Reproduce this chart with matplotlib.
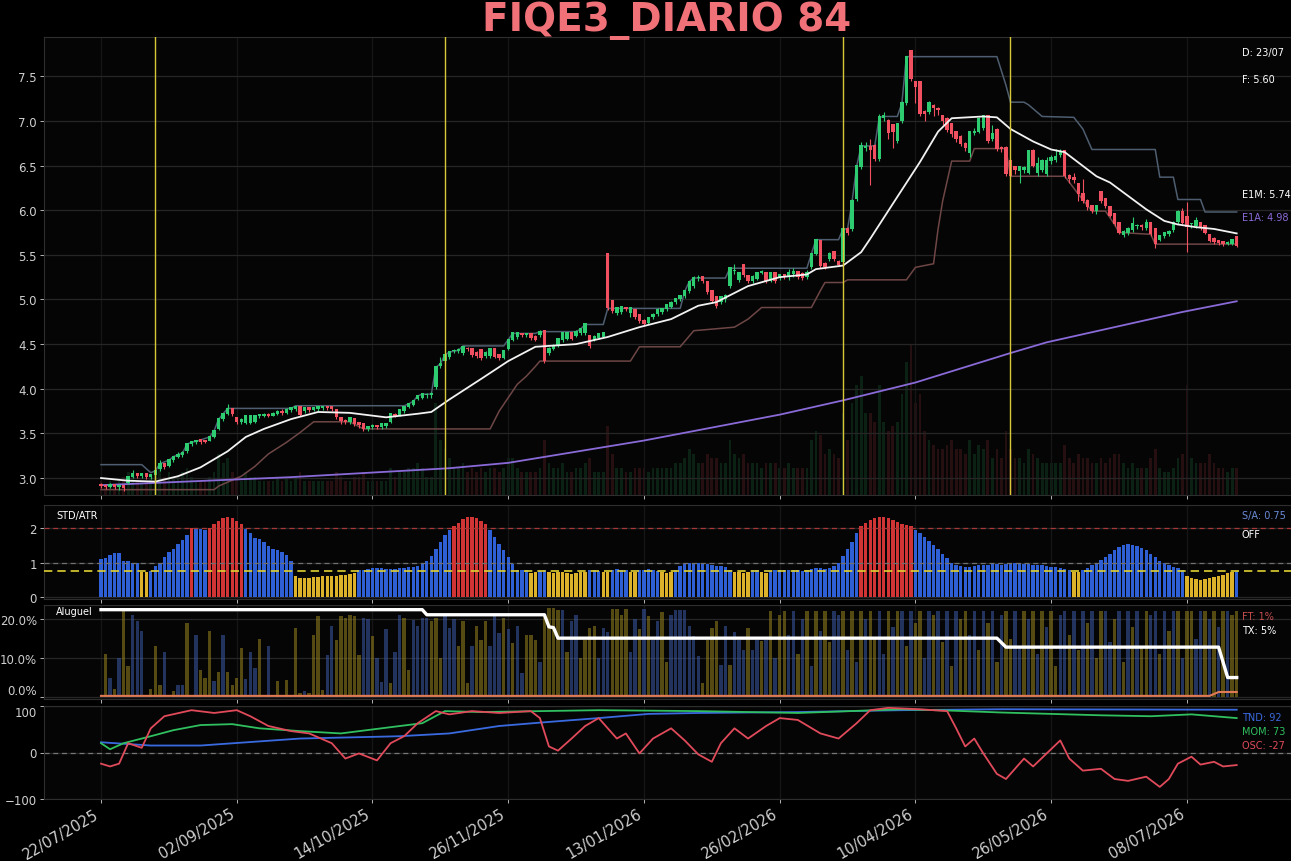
import numpy as np
import matplotlib
matplotlib.use("Agg")
import matplotlib.pyplot as plt

# ---------------- data ----------------
title = "FIQE3_DIARIO 84"
tick_labels = ['22/07/2025', '02/09/2025', '14/10/2025', '26/11/2025', '13/01/2026',
               '26/02/2026', '10/04/2026', '26/05/2026', '08/07/2026']
tick_step = 30

opens = [
 2.92,2.91,2.90,2.92,2.90,2.91,2.94,3.01,3.05,3.02,
 3.04,3.01,3.03,3.10,3.16,3.13,3.20,3.24,3.26,3.30,
 3.38,3.40,3.42,3.41,3.42,3.46,3.55,3.66,3.72,3.77,
 3.67,3.63,3.62,3.62,3.63,3.69,3.70,3.71,3.70,3.72,
 3.74,3.73,3.76,3.77,3.80,3.75,3.78,3.76,3.77,3.78,
 3.80,3.80,3.76,3.67,3.64,3.63,3.66,3.62,3.60,3.55,
 3.57,3.58,3.57,3.58,3.63,3.71,3.71,3.75,3.80,3.82,
 3.88,3.90,3.93,3.93,4.02,4.25,4.31,4.36,4.42,4.42,
 4.40,4.45,4.44,4.40,4.43,4.37,4.37,4.45,4.38,4.35,
 4.44,4.55,4.58,4.61,4.60,4.61,4.58,4.60,4.65,4.40,
 4.45,4.48,4.55,4.56,4.62,4.59,4.62,4.62,4.59,4.55,
 4.57,4.58,5.51,4.98,4.85,4.86,4.90,4.85,4.88,4.82,
 4.76,4.74,4.80,4.84,4.86,4.89,4.92,4.97,5.00,5.04,
 5.09,5.15,5.24,5.25,5.19,5.09,5.03,4.97,5.00,5.15,
 5.32,5.22,5.39,5.26,5.21,5.23,5.30,5.30,5.21,5.30,
 5.24,5.27,5.25,5.29,5.31,5.29,5.25,5.36,5.51,5.65,
 5.40,5.45,5.53,5.42,5.42,5.79,5.79,6.12,6.48,6.70,
 6.71,6.72,6.57,7.03,7.00,6.95,6.77,7.00,7.20,7.78,
 7.43,7.43,7.10,7.10,7.17,7.13,7.05,7.02,6.96,6.87,
 6.82,6.74,6.64,6.86,6.88,6.92,7.05,6.80,6.90,6.70,
 6.70,6.55,6.48,6.44,6.45,6.42,6.66,6.42,6.45,6.40,
 6.55,6.56,6.62,6.66,6.38,6.36,6.29,6.18,6.10,6.05,
 5.99,6.20,6.12,6.04,5.96,5.86,5.72,5.74,5.78,5.82,
 5.82,5.80,5.86,5.79,5.67,5.71,5.73,5.78,5.87,5.98,
 5.92,5.84,5.82,5.86,5.82,5.72,5.68,5.65,5.64,5.62,5.62,5.70]

closes = [
 2.91,2.90,2.92,2.90,2.91,2.89,3.01,3.05,3.02,3.04,
 3.01,3.03,3.08,3.16,3.12,3.20,3.24,3.26,3.28,3.38,
 3.40,3.41,3.40,3.40,3.46,3.53,3.66,3.72,3.77,3.72,
 3.63,3.65,3.69,3.69,3.69,3.70,3.71,3.70,3.72,3.74,
 3.73,3.76,3.78,3.80,3.71,3.78,3.76,3.78,3.80,3.80,
 3.78,3.77,3.68,3.64,3.63,3.67,3.61,3.59,3.55,3.57,
 3.58,3.57,3.60,3.60,3.72,3.70,3.76,3.79,3.83,3.86,
 3.92,3.94,3.93,3.94,4.24,4.28,4.38,4.41,4.42,4.43,
 4.47,4.44,4.38,4.37,4.35,4.40,4.45,4.36,4.34,4.42,
 4.55,4.62,4.62,4.60,4.61,4.57,4.55,4.64,4.31,4.45,
 4.48,4.56,4.62,4.62,4.56,4.64,4.67,4.72,4.48,4.58,
 4.61,4.62,4.90,4.87,4.90,4.91,4.89,4.90,4.80,4.76,
 4.72,4.79,4.83,4.88,4.89,4.94,4.96,5.01,5.04,5.09,
 5.20,5.24,5.24,5.21,5.08,4.98,4.93,5.03,5.04,5.35,
 5.32,5.30,5.27,5.21,5.25,5.30,5.31,5.21,5.30,5.21,
 5.27,5.25,5.30,5.31,5.25,5.24,5.30,5.51,5.67,5.37,
 5.36,5.51,5.45,5.39,5.79,5.75,6.10,6.49,6.72,6.71,
 6.67,6.57,7.04,7.05,6.87,6.88,6.96,7.20,7.71,7.47,
 7.38,7.08,7.08,7.20,7.14,7.12,7.00,6.90,6.85,6.80,
 6.74,6.70,6.87,6.87,7.02,7.05,6.77,6.85,6.68,6.68,
 6.40,6.38,6.45,6.48,6.47,6.66,6.50,6.52,6.55,6.55,
 6.58,6.60,6.65,6.38,6.35,6.34,6.18,6.10,6.04,5.99,
 6.05,6.10,6.05,5.94,5.84,5.75,5.76,5.79,5.84,5.82,
 5.81,5.86,5.73,5.62,5.71,5.74,5.76,5.86,5.98,5.86,
 5.81,5.84,5.88,5.80,5.75,5.66,5.64,5.63,5.62,5.63,5.67,5.60]

highs = [
 2.94,2.93,2.94,2.93,2.93,2.92,3.02,3.09,3.06,3.06,
 3.05,3.05,3.10,3.20,3.17,3.21,3.25,3.29,3.30,3.39,
 3.42,3.43,3.43,3.43,3.47,3.54,3.67,3.73,3.83,3.78,
 3.68,3.67,3.70,3.70,3.70,3.72,3.73,3.73,3.74,3.76,
 3.77,3.78,3.80,3.81,3.81,3.79,3.80,3.80,3.81,3.81,
 3.81,3.81,3.77,3.68,3.66,3.68,3.67,3.63,3.61,3.58,
 3.60,3.59,3.61,3.62,3.73,3.73,3.77,3.80,3.84,3.87,
 3.93,3.95,3.95,3.96,4.25,4.36,4.40,4.42,4.44,4.46,
 4.48,4.47,4.45,4.42,4.44,4.42,4.46,4.46,4.39,4.43,
 4.56,4.63,4.64,4.63,4.63,4.62,4.60,4.66,4.66,4.47,
 4.50,4.57,4.63,4.63,4.63,4.66,4.68,4.73,4.60,4.60,
 4.63,4.64,5.52,4.99,4.92,4.93,4.92,4.92,4.89,4.83,
 4.78,4.80,4.85,4.90,4.91,4.95,4.98,5.02,5.05,5.11,
 5.21,5.26,5.27,5.26,5.20,5.10,5.04,5.04,5.06,5.36,
 5.40,5.31,5.40,5.27,5.27,5.31,5.33,5.31,5.31,5.31,
 5.29,5.29,5.34,5.35,5.32,5.31,5.33,5.52,5.68,5.66,
 5.42,5.53,5.54,5.44,5.80,5.81,6.12,6.50,6.76,6.76,
 6.80,6.74,7.08,7.10,7.02,6.97,6.98,7.22,7.73,7.79,
 7.45,7.44,7.12,7.22,7.19,7.16,7.06,7.04,6.98,6.88,
 6.84,6.76,6.88,6.92,7.04,7.06,7.06,6.95,6.92,6.72,
 6.72,6.57,6.50,6.50,6.50,6.67,6.68,6.60,6.57,6.60,
 6.62,6.68,6.68,6.67,6.40,6.42,6.30,6.35,6.12,6.06,
 6.06,6.22,6.13,6.05,5.97,5.87,5.78,5.81,5.92,5.84,
 5.84,5.90,5.87,5.80,5.72,5.76,5.78,5.88,6.00,6.03,
 6.09,5.86,5.92,5.87,5.83,5.73,5.70,5.67,5.66,5.65,5.68,5.71]

lows = [
 2.89,2.88,2.89,2.88,2.87,2.86,2.93,3.00,3.00,3.00,
 2.99,2.99,3.00,3.08,3.10,3.12,3.18,3.22,3.24,3.28,
 3.36,3.38,3.38,3.39,3.41,3.45,3.54,3.64,3.71,3.70,
 3.61,3.60,3.60,3.61,3.62,3.67,3.68,3.68,3.69,3.71,
 3.71,3.72,3.74,3.75,3.69,3.73,3.74,3.75,3.75,3.76,
 3.76,3.75,3.66,3.60,3.61,3.61,3.58,3.56,3.53,3.53,
 3.55,3.55,3.55,3.56,3.62,3.68,3.70,3.73,3.79,3.81,
 3.87,3.88,3.90,3.90,4.00,4.23,4.28,4.33,4.40,4.40,
 4.38,4.42,4.36,4.35,4.32,4.34,4.35,4.34,4.32,4.33,
 4.43,4.54,4.56,4.58,4.58,4.55,4.54,4.58,4.29,4.38,
 4.43,4.47,4.52,4.55,4.55,4.58,4.60,4.60,4.46,4.53,
 4.56,4.57,4.88,4.85,4.83,4.84,4.87,4.80,4.78,4.74,
 4.70,4.72,4.78,4.82,4.84,4.87,4.90,4.95,4.98,5.02,
 5.07,5.13,5.21,5.19,5.06,4.96,4.91,4.95,4.97,5.13,
 5.29,5.20,5.25,5.19,5.19,5.22,5.28,5.19,5.20,5.19,
 5.22,5.23,5.22,5.25,5.23,5.22,5.23,5.34,5.50,5.35,
 5.34,5.43,5.43,5.37,5.40,5.72,5.77,6.10,6.46,6.66,
 6.28,6.55,6.55,7.00,6.80,6.70,6.75,6.98,7.18,7.45,
 7.20,7.05,7.00,7.08,7.05,7.07,6.95,6.88,6.82,6.76,
 6.72,6.66,6.60,6.84,6.86,6.90,6.75,6.78,6.66,6.65,
 6.38,6.36,6.40,6.30,6.42,6.40,6.48,6.38,6.43,6.38,
 6.52,6.54,6.60,6.36,6.30,6.30,6.10,6.08,6.00,5.97,
 5.96,6.08,6.03,5.92,5.82,5.73,5.70,5.72,5.76,5.79,
 5.78,5.78,5.71,5.58,5.65,5.69,5.71,5.76,5.85,5.84,
 5.53,5.80,5.80,5.78,5.73,5.64,5.62,5.61,5.60,5.61,5.61,5.59]

volume = [
 0.3,0.2,0.3,0.2,0.3,0.4,0.5,0.4,0.3,0.3, 0.3,0.4,0.5,0.6,0.4,0.5,0.4,0.4,0.5,0.6,
 0.4,0.3,0.3,0.3,0.4,0.5,0.9,0.7,0.8,0.5, 0.4,0.3,0.5,0.4,0.4,0.3,0.3,0.3,0.3,0.4,
 0.3,0.4,0.3,0.4,0.5,0.3,0.3,0.3,0.3,0.3, 0.3,0.3,0.5,0.4,0.3,0.3,0.4,0.4,0.5,0.3,
 0.3,0.3,0.3,0.3,0.6,0.4,0.5,0.5,0.6,0.6, 0.7,0.6,0.4,0.4,2.0,1.2,1.0,0.8,0.6,0.6,
 0.7,0.5,0.6,0.5,0.6,0.5,0.6,0.6,0.5,0.6, 0.8,0.8,0.6,0.5,0.5,0.5,0.5,0.6,1.2,0.7,
 0.6,0.6,0.7,0.5,0.5,0.6,0.6,0.7,0.8,0.5, 0.5,0.5,1.5,0.9,0.6,0.6,0.5,0.5,0.6,0.6,
 0.6,0.5,0.6,0.6,0.6,0.6,0.6,0.7,0.7,0.8, 1.0,0.9,0.7,0.7,0.9,0.8,0.8,0.7,0.7,1.2,
 0.9,0.8,0.9,0.7,0.7,0.7,0.6,0.7,0.7,0.7, 0.6,0.6,0.7,0.6,0.6,0.6,0.6,1.2,1.4,1.3,
 0.9,1.0,0.9,0.8,1.8,1.2,2.0,2.4,2.6,1.8, 1.8,1.6,2.4,1.6,1.4,1.5,1.6,2.2,2.9,3.3,
 2.0,2.2,1.4,1.2,1.1,1.0,1.0,1.1,1.2,1.0, 1.0,0.9,1.2,0.9,1.1,1.0,1.2,0.8,1.0,0.8,
 1.4,1.0,0.8,0.8,0.7,1.0,0.9,0.8,0.7,0.7, 0.7,0.7,0.7,1.1,0.8,0.7,0.9,0.8,0.8,0.7,
 0.7,0.8,0.7,0.8,0.9,0.9,0.7,0.6,0.7,0.6, 0.6,0.6,0.8,1.0,0.6,0.5,0.5,0.6,0.8,0.9,
 2.4,0.8,0.7,0.7,0.7,0.9,0.7,0.6,0.6,0.5,0.6,0.6]

# sparse indicator lines: (bar index, value)
e1m_idx = [0,6,12,17,22,28,32,36,42,48,55,63,70,73,77,84,90,96,105,112,119,126,132,136,143,150,156,158,
           164,168,170,176,181,185,188,195,198,201,206,210,213,220,223,227,231,235,238,242,246,251]
e1m_val = [3.00,2.97,2.96,3.02,3.12,3.30,3.46,3.55,3.66,3.74,3.73,3.68,3.72,3.74,3.88,4.11,4.31,4.47,4.50,
           4.58,4.69,4.78,4.93,4.97,5.15,5.25,5.28,5.34,5.38,5.53,5.68,6.15,6.54,6.88,7.03,7.05,7.04,6.91,
           6.77,6.68,6.65,6.38,6.31,6.16,6.01,5.88,5.84,5.81,5.79,5.74]

e1a_idx = [0,42,77,90,120,150,164,180,201,209,239,251]
e1a_val = [2.92,3.01,3.11,3.17,3.42,3.71,3.87,4.07,4.40,4.52,4.86,4.98]

hi_idx = [0,9,11,12,13,15,16,17,18,19,20,21,24,25,26,27,28,42,43,67,68,69,70,71,73,74,75,76,77,79,80,
          89,90,91,96,97,105,106,107,111,112,128,129,130,131,138,139,156,157,158,163,164,165,166,167,168,
          171,172,173,176,177,178,198,200,201,204,205,208,215,217,219,233,234,237,238,243,244,251]
hi_val = [3.15,3.15,3.06,3.08,3.16,3.20,3.24,3.26,3.28,3.38,3.40,3.41,3.46,3.53,3.66,3.72,3.78,3.78,3.81,
          3.81,3.83,3.86,3.92,3.94,3.94,4.24,4.28,4.38,4.41,4.43,4.48,4.48,4.55,4.62,4.62,4.64,4.64,4.67,
          4.72,4.72,4.90,4.90,5.09,5.20,5.24,5.24,5.35,5.35,5.51,5.67,5.67,5.79,5.79,6.10,6.49,6.72,6.72,
          7.04,7.05,7.05,7.20,7.72,7.72,7.40,7.21,7.21,7.18,7.05,7.04,6.91,6.68,6.68,6.37,6.37,6.12,6.12,
          5.98,5.98]

lo_idx = [0,25,26,31,34,37,41,44,47,55,58,86,88,90,92,94,96,97,117,119,128,131,140,143,146,157,159,160,
          164,165,178,180,184,185,186,188,192,193,200,201,213,216,219,222,224,225,232,233,251]
lo_val = [2.87,2.87,2.91,3.02,3.13,3.27,3.40,3.51,3.63,3.63,3.55,3.55,3.75,3.90,4.05,4.14,4.25,4.31,4.31,
          4.47,4.47,4.65,4.69,4.78,4.91,4.91,5.10,5.19,5.19,5.22,5.22,5.36,5.40,5.79,6.10,6.55,6.55,6.69,
          6.69,6.38,6.38,6.18,5.99,5.99,5.84,5.75,5.73,5.62,5.62]

vlines_idx = [12, 76, 164, 201]

std_atr = [
 1.10,1.13,1.22,1.28,1.27,1.05,1.05,1.00,0.98,0.72, 0.72,0.76,0.90,1.00,1.15,1.30,1.40,1.55,1.65,1.80,
 2.00,1.97,1.97,1.95,2.00,2.10,2.20,2.28,2.32,2.28, 2.20,2.10,1.97,1.85,1.72,1.68,1.60,1.48,1.40,1.35,
 1.30,1.22,1.05,0.62,0.55,0.55,0.56,0.58,0.57,0.60, 0.60,0.62,0.62,0.63,0.65,0.68,0.70,0.78,0.80,0.82,
 0.84,0.84,0.83,0.82,0.82,0.82,0.83,0.84,0.86,0.88, 0.90,0.95,1.05,1.20,1.40,1.60,1.80,1.95,2.05,2.15,
 2.25,2.30,2.32,2.28,2.20,2.10,1.95,1.75,1.55,1.35, 1.15,0.95,0.80,0.78,0.78,0.70,0.72,0.76,0.78,0.72,
 0.70,0.72,0.74,0.70,0.68,0.70,0.72,0.74,0.78,0.80, 0.76,0.72,0.74,0.80,0.82,0.80,0.78,0.74,0.72,0.78,
 0.80,0.82,0.78,0.76,0.74,0.70,0.72,0.80,0.90,0.95, 0.98,1.00,0.98,0.96,0.95,0.92,0.90,0.90,0.88,0.80,
 0.74,0.72,0.70,0.72,0.78,0.80,0.74,0.70,0.76,0.80, 0.80,0.78,0.80,0.80,0.78,0.76,0.80,0.82,0.85,0.84,
 0.82,0.85,0.90,1.00,1.20,1.40,1.60,1.85,2.05,2.15, 2.22,2.28,2.32,2.30,2.28,2.22,2.18,2.12,2.08,2.05,
 1.95,1.85,1.75,1.62,1.50,1.38,1.25,1.12,1.00,0.92, 0.90,0.88,0.88,0.90,0.92,0.92,0.94,0.95,0.95,0.94,
 0.95,0.96,0.98,0.98,0.96,0.95,0.93,0.92,0.92,0.90, 0.88,0.86,0.84,0.82,0.80,0.74,0.72,0.78,0.85,0.92,
 1.00,1.08,1.15,1.25,1.35,1.45,1.52,1.55,1.52,1.48, 1.42,1.35,1.25,1.15,1.05,0.98,0.92,0.88,0.85,0.80,
 0.62,0.55,0.52,0.50,0.52,0.55,0.58,0.60,0.65,0.70,0.72,0.76]
std_hi, std_lo, std_sa = 2.0, 1.0, 0.75

aluguel = [
 0,11,5,2,10,22,8,21,19.5,17, 0,2,13,3,11.5,0,1.5,3,3,19,
 0,16,7,5,17,4,6.5,16,6.5,3, 5,12.5,4.5,11.5,7.5,15,0,13,0,4,
 0.5,4.4,0.5,17.7,1,1.5,1,16,20.9,1.7, 10.9,18.3,14.5,20.9,20.3,21.1,20.9,10.9,20.3,20,
 15.6,10,3.8,17.4,3.6,11.5,21.1,20.3,7,19.8, 18.3,20.3,20.3,19.4,20.3,10,20.9,17.7,20,13,
 19.4,3.6,13,18.3,14.7,19.4,13,21.1,16.4,20.3, 17.4,13.8,18.3,6.2,16,16,14.7,9.1,21.1,22.8,
 22.8,22.4,22.4,11.5,19.4,21.1,10,14.7,17.7,18.3, 10,17.7,16.8,22.6,22.6,21.1,22.6,11.5,20,17.4,
 22.6,20.7,14.7,19.4,21.7,9.1,21.1,22.4,22.4,22.4, 18.3,15.7,10.4,3.6,14.7,17.7,19.4,8.3,18.3,8.3,
 16.8,14.7,12.1,17.7,12.1,14.7,14.3,14.7,22,10, 21,22,16,22,11,20,22,8,22,17,
 22,14,22,21,22,12,22,9,22,20, 22,15,22,11,22,18,22,22,13,22,
 19,22,10,22,21,22,14,22,8,22, 20,22,16,22,12,22,19,22,9,21,
 22,15,22,13,22,20,22,11,22,18, 22,8,21,22,16,22,12,22,19,22,
 10,22,22,14,20,22,9,22,18,22, 13,22,21,22,11,22,17,22,22,10,
 22,22,15,22,22,20,22,18,22,22,21,22]
aluguel_side = ("yybybyybbb" "yyyybyybby" "bbyyybybyy" "yybbbybbby" "byyyybyyyy"
                "bbyyyyyybb" "ybbbybbyyb" "bbbyyybbby" "yybyyybbby" "bybbyyybyy"
                "yybybbyyyy" "bbbyyyybby" "bybbyybbbb" "bbbyyyybby" "bbbybbyb"
                "ybyybbybyb" "ybyybbybyb" "ybyybbybyb" "ybyybbybyb" "ybyybbybyb"
                "ybyybbybyb" "ybyybbybyb" "ybyybbybyb" "ybyybbybyb" "ybyybbybyb" "ybyy")
tx_idx = [0, 71, 72, 98, 99, 100, 101, 198, 200, 247, 249, 251]
tx_val = [22.4, 22.4, 21.1, 21.1, 18.0, 17.8, 15.1, 15.1, 12.8, 12.8, 5.0, 5.0]
ft_idx = [0, 245, 247, 251]
ft_val = [0.3, 0.3, 1.3, 1.3]

tnd_idx = [0,11,22,44,66,77,88,98,110,121,132,154,177,199,251]
tnd_val = [22,15,15,30,35,41,57,65,74,83,85,87,91,93,92]
mom_idx = [0,2,5,11,16,22,29,35,44,53,62,71,76,84,97,110,132,154,177,188,199,210,221,232,241,251]
mom_val = [20,7,20,35,48,59,61,52,46,41,52,63,89,87,89,91,89,85,93,90,86,83,80,78,82,74]
osc_idx = [0,2,4,6,9,11,14,20,25,30,33,37,42,46,51,54,57,61,64,67,70,74,77,82,88,95,97,99,101,104,
           107,110,114,116,119,122,126,129,132,135,137,140,143,147,150,154,159,163,167,170,174,181,
           187,189,191,193,195,198,200,202,204,206,209,212,214,217,221,224,227,231,234,236,238,241,
           243,246,248,251]
osc_val = [-24,-30,-24,20,10,52,78,91,85,91,78,57,46,41,20,-13,-2,-17,20,35,63,89,82,89,85,89,74,13,4,
           30,57,74,30,41,-2,30,52,26,-4,-20,20,52,30,57,74,70,41,30,63,91,96,93,89,52,13,30,-2,-46,
           -57,-35,-13,-30,-2,26,-13,-39,-35,-57,-61,-52,-74,-57,-24,-9,-26,-20,-30,-27]

# ---------------- style ----------------
BG = "#000000"
AX_BG = "#050505"
GRID = "#262626"
SPINE = "#2e2e2e"
TXT = "#cfcfcf"
GREEN = "#2ecc71"
RED = "#f0505f"

W, H = 1291, 862
fig = plt.figure(figsize=(W / 100, H / 100), dpi=100, facecolor=BG)

def ax_at(top, bottom, left=44, right=1291):
    return fig.add_axes([left / W, 1 - bottom / H, (right - left) / W, (bottom - top) / H])

n = len(closes)
x = np.arange(n)
xlim = (-12.6, 263.0)
tick_pos = np.arange(len(tick_labels)) * tick_step

def style(ax):
    ax.set_facecolor(AX_BG)
    for s in ax.spines.values():
        s.set_color(SPINE)
        s.set_linewidth(0.8)
    ax.tick_params(colors=TXT, labelsize=8.5, length=3, width=0.6, pad=2)
    ax.set_xlim(*xlim)
    ax.set_xticks(tick_pos)
    ax.grid(True, axis='y', color=GRID, lw=0.9)
    ax.grid(True, axis='x', color="#161616", lw=0.9)
    ax.set_axisbelow(True)

# ---------- main panel ----------
ax = ax_at(38, 496)
style(ax)
ax.set_ylim(2.81, 7.94)
ax.set_yticks([3.0, 3.5, 4.0, 4.5, 5.0, 5.5, 6.0, 6.5, 7.0, 7.5])
ax.yaxis.set_major_formatter(matplotlib.ticker.FormatStrFormatter('%.1f'))
ax.tick_params(labelbottom=False)

o = np.array(opens); c = np.array(closes)
up = c >= o
cols = np.where(up, GREEN, RED)

# volume (twin axis behind candles)
axv = ax.twinx()
axv.set_ylim(0, 10)
axv.bar(x, volume, width=0.6, color=cols, alpha=0.14, zorder=1)
axv.set_yticks([])
for s in axv.spines.values():
    s.set_visible(False)
axv.set_zorder(ax.get_zorder() - 1)
ax.patch.set_visible(False)
axv.patch.set_visible(True)
axv.patch.set_facecolor(AX_BG)

ax.plot(hi_idx, hi_val, color="#4e5e70", lw=1.1, zorder=2)
ax.plot(lo_idx, lo_val, color="#6e4646", lw=1.1, zorder=2)
ax.plot(e1a_idx, e1a_val, color="#8a6ad8", lw=1.3, zorder=2)
ax.vlines(x, lows, highs, colors=cols, lw=0.8, zorder=3)
ax.bar(x, np.abs(c - o) + 0.012, bottom=np.minimum(o, c), width=0.75, color=cols, zorder=4)
ax.plot(e1m_idx, e1m_val, color="#f2f2f2", lw=1.3, zorder=5)
for v in vlines_idx:
    ax.axvline(v, color="#d8c838", lw=1.0, zorder=6)

tx = (1242 - 44) / (1291 - 44)
ax.text(tx, 0.967, "D: 23/07", color="white", fontsize=7, transform=ax.transAxes, va='center')
ax.text(tx, 0.908, "F: 5.60", color="white", fontsize=7, transform=ax.transAxes, va='center')
ax.text(tx, 0.657, "E1M: 5.74", color="white", fontsize=7, transform=ax.transAxes, va='center')
ax.text(tx, 0.607, "E1A: 4.98", color="#8a6ad8", fontsize=7, transform=ax.transAxes, va='center')

fig.text(667 / W, 1 - 31 / H, title, color="#f07178", fontsize=28, fontweight='bold',
         ha='center', va='baseline')

# ---------- STD/ATR ----------
ax2 = ax_at(506, 600)
style(ax2)
ax2.set_ylim(-0.05, 2.66)
ax2.set_yticks([0, 1, 2])
ax2.tick_params(labelbottom=False)
sv = np.array(std_atr)
scol = np.where(sv >= std_hi, "#d03434", np.where(sv < std_sa, "#dcb22a", "#2f5fd4"))
ax2.bar(x, sv, width=0.75, color=scol, zorder=2)
ax2.axhline(std_hi, color="#a83838", lw=0.9, ls=(0, (4, 3)), zorder=3)
ax2.axhline(std_lo, color="#707070", lw=0.9, ls=(0, (4, 3)), zorder=3)
ax2.axhline(std_sa, color="#e0d030", lw=1.2, ls=(0, (5, 3)), zorder=3)
ax2.text(0.0096, 0.894, "STD/ATR", color="white", fontsize=7, transform=ax2.transAxes, va='center')
ax2.text(tx, 0.894, "S/A: 0.75", color="#6a8ad8", fontsize=7, transform=ax2.transAxes, va='center')
ax2.text(tx, 0.69, "OFF", color="white", fontsize=7, transform=ax2.transAxes, va='center')

# ---------- Aluguel ----------
ax3 = ax_at(606, 700)
style(ax3)
ax3.set_ylim(-0.5, 23.6)
ax3.set_yticks([0, 10, 20])
ax3.set_yticklabels(["0.0%", "10.0%", "20.0%"])
ax3.tick_params(labelbottom=False)
ax3.get_yticklabels()[0].set_va('bottom')
acol = ["#3a5aa8" if s == 'b' else "#9a8420" for s in aluguel_side[:n]]
ax3.bar(x, aluguel, width=0.75, color=acol, alpha=0.55, zorder=2)
ax3.plot(ft_idx, ft_val, color="#e07a55", lw=1.5, zorder=3)
ax3.plot(tx_idx, tx_val, color="white", lw=2.4, zorder=4)
ax3.text(0.0096, 0.936, "Aluguel", color="white", fontsize=7, transform=ax3.transAxes, va='center')
ax3.text(tx, 0.883, "FT: 1%", color="#c85050", fontsize=7, transform=ax3.transAxes, va='center')
ax3.text(tx, 0.734, "TX: 5%", color="white", fontsize=7, transform=ax3.transAxes, va='center')

# ---------- oscillators ----------
ax4 = ax_at(707, 800)
style(ax4)
ax4.set_ylim(-100, 100)
ax4.set_yticks([-100, 0, 100])
ax4.get_yticklabels()[2].set_va('top')
ax4.axhline(0, color="#777777", lw=0.9, ls=(0, (4, 3)), zorder=2)
ax4.plot(tnd_idx, tnd_val, color="#3a6ae0", lw=1.3, zorder=3)
ax4.plot(mom_idx, mom_val, color="#30c060", lw=1.3, zorder=3)
ax4.plot(osc_idx, osc_val, color="#e04a5a", lw=1.3, zorder=4)
ax4.text(tx, 0.882, "TND: 92", color="#3a6ae0", fontsize=7, transform=ax4.transAxes, va='center')
ax4.text(tx, 0.731, "MOM: 73", color="#30c060", fontsize=7, transform=ax4.transAxes, va='center')
ax4.text(tx, 0.581, "OSC: -27", color="#e04a5a", fontsize=7, transform=ax4.transAxes, va='center')
ax4.set_xticklabels(tick_labels, rotation=30, ha='right', fontsize=10.5, color=TXT)

fig.savefig("out.png", dpi=100, facecolor=BG)
